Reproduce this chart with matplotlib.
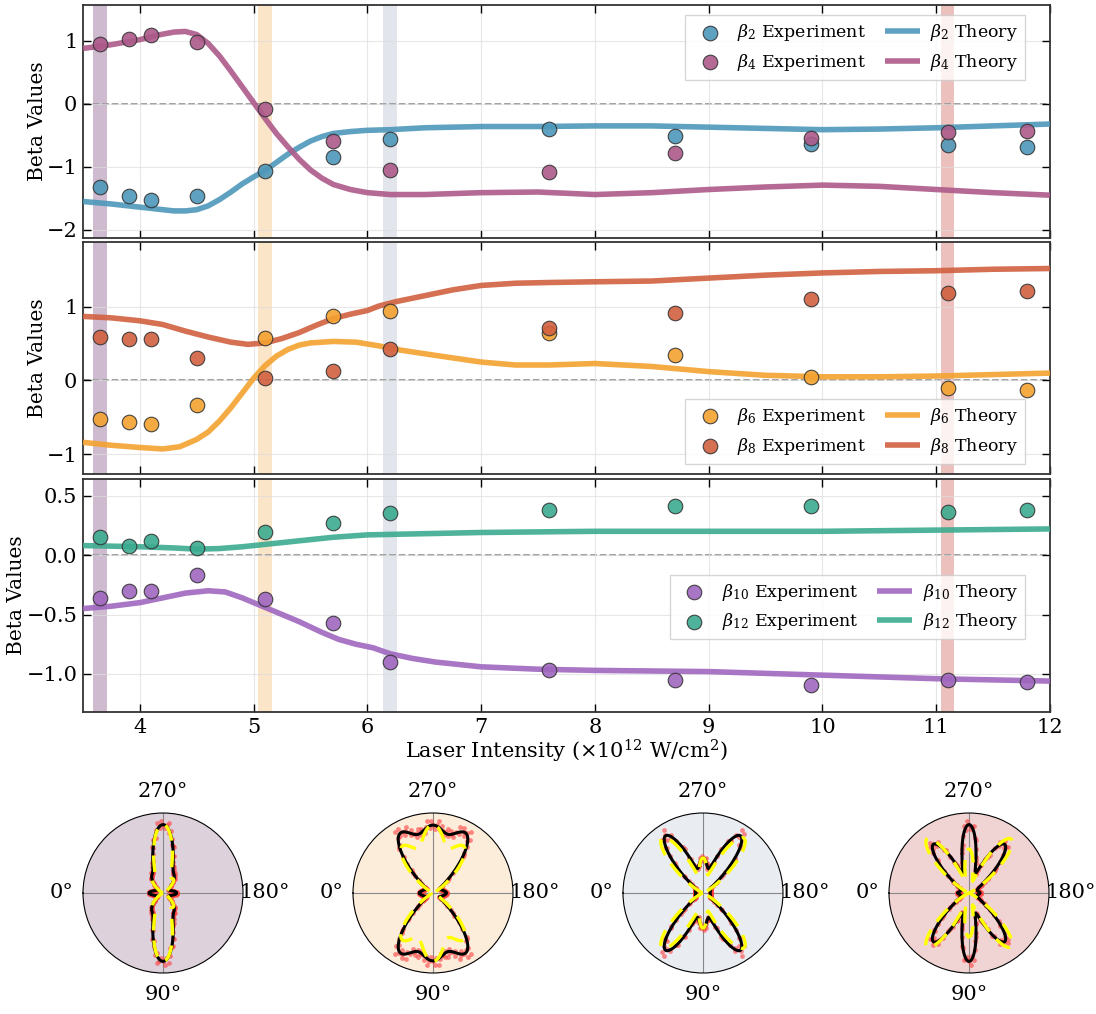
import numpy as np
import matplotlib
matplotlib.use("Agg")
import matplotlib.pyplot as plt
from matplotlib.ticker import MultipleLocator
from numpy.polynomial import legendre

plt.rcParams["font.family"] = ["DejaVu Serif"]
plt.rcParams["mathtext.fontset"] = "dejavuserif"

# --- experiment data (intensity in 1e12 W/cm^2) ---
x_exp = [3.65, 3.9, 4.1, 4.5, 5.1, 5.7, 6.2, 7.6, 8.7, 9.9, 11.1, 11.8]
b2_exp = [-1.32, -1.46, -1.52, -1.46, -1.06, -0.84, -0.56, -0.40, -0.51, -0.63, -0.65, -0.68]
b4_exp = [0.95, 1.03, 1.09, 0.98, -0.08, -0.59, -1.05, -1.08, -0.78, -0.54, -0.45, -0.43]
b6_exp = [-0.52, -0.56, -0.59, -0.33, 0.58, 0.87, 0.94, 0.65, 0.34, 0.05, -0.10, -0.13]
b8_exp = [0.59, 0.56, 0.56, 0.31, 0.03, 0.13, 0.43, 0.71, 0.91, 1.10, 1.19, 1.21]
b10_exp = [-0.36, -0.30, -0.30, -0.17, -0.37, -0.57, -0.90, -0.97, -1.05, -1.09, -1.05, -1.07]
b12_exp = [0.15, 0.08, 0.12, 0.06, 0.19, 0.27, 0.35, 0.38, 0.41, 0.41, 0.36, 0.38]

# --- theory curves ---
x_b2_th = [3.5, 3.75, 4.0, 4.15, 4.3, 4.4, 4.5, 4.6, 4.7, 4.8, 4.9, 5.0, 5.1, 5.2, 5.3, 5.4, 5.5,
           5.6, 5.7, 5.85, 6.0, 6.2, 6.5, 7.0, 7.5, 8.0, 8.5, 9.0, 9.5, 10.0, 10.5, 11.0, 11.5, 12.0]
b2_th = [-1.55, -1.59, -1.64, -1.67, -1.70, -1.70, -1.68, -1.62, -1.52, -1.40, -1.27, -1.16, -1.06,
         -0.93, -0.80, -0.69, -0.59, -0.52, -0.47, -0.44, -0.42, -0.41, -0.38, -0.36, -0.36, -0.35,
         -0.35, -0.37, -0.39, -0.41, -0.40, -0.38, -0.35, -0.32]
x_b4_th = [3.5, 3.75, 4.0, 4.15, 4.3, 4.4, 4.5, 4.6, 4.7, 4.8, 4.9, 5.0, 5.1, 5.2, 5.3, 5.4, 5.5,
           5.6, 5.7, 5.85, 6.0, 6.2, 6.5, 7.0, 7.5, 8.0, 8.5, 9.0, 9.5, 10.0, 10.5, 11.0, 11.5, 12.0]
b4_th = [0.88, 0.94, 1.02, 1.09, 1.14, 1.15, 1.10, 0.96, 0.76, 0.52, 0.27, 0.02, -0.23, -0.47, -0.68,
         -0.88, -1.05, -1.18, -1.28, -1.36, -1.41, -1.44, -1.44, -1.41, -1.40, -1.44, -1.41, -1.36,
         -1.32, -1.29, -1.31, -1.36, -1.41, -1.45]
x_b6_th = [3.5, 3.75, 4.0, 4.2, 4.35, 4.5, 4.6, 4.7, 4.8, 4.9, 5.0, 5.1, 5.2, 5.3, 5.4, 5.5, 5.7,
           5.9, 6.1, 6.3, 6.6, 7.0, 7.3, 7.6, 8.0, 8.5, 9.0, 9.5, 10.0, 10.5, 11.0, 11.5, 12.0]
b6_th = [-0.84, -0.88, -0.91, -0.93, -0.90, -0.80, -0.70, -0.55, -0.37, -0.17, 0.03, 0.20, 0.33,
         0.42, 0.48, 0.51, 0.53, 0.52, 0.47, 0.41, 0.34, 0.25, 0.21, 0.21, 0.23, 0.19, 0.12, 0.07,
         0.05, 0.05, 0.06, 0.08, 0.10]
x_b8_th = [3.5, 3.75, 4.0, 4.2, 4.4, 4.6, 4.8, 4.95, 5.1, 5.25, 5.4, 5.55, 5.7, 5.85, 6.0, 6.1,
           6.25, 6.5, 6.75, 7.0, 7.3, 7.6, 8.0, 8.5, 9.0, 9.5, 10.0, 10.5, 11.0, 11.5, 12.0]
b8_th = [0.87, 0.85, 0.81, 0.76, 0.67, 0.59, 0.52, 0.49, 0.51, 0.57, 0.65, 0.75, 0.84, 0.90, 0.95,
         1.01, 1.07, 1.15, 1.23, 1.29, 1.32, 1.33, 1.34, 1.35, 1.39, 1.43, 1.46, 1.48, 1.49, 1.51, 1.52]
x_b10_th = [3.5, 3.75, 4.0, 4.2, 4.4, 4.6, 4.75, 4.9, 5.05, 5.2, 5.4, 5.6, 5.75, 5.9, 6.05, 6.2,
            6.4, 6.6, 7.0, 7.5, 8.0, 9.0, 10.0, 11.0, 12.0]
b10_th = [-0.45, -0.43, -0.40, -0.36, -0.32, -0.30, -0.31, -0.36, -0.42, -0.48, -0.56, -0.65, -0.71,
          -0.75, -0.78, -0.83, -0.87, -0.90, -0.94, -0.96, -0.97, -0.98, -1.01, -1.04, -1.06]
x_b12_th = [3.5, 4.0, 4.3, 4.5, 4.7, 4.9, 5.1, 5.3, 5.5, 5.7, 6.0, 6.5, 7.0, 8.0, 9.0, 10.0, 11.0, 12.0]
b12_th = [0.08, 0.07, 0.06, 0.05, 0.055, 0.07, 0.09, 0.11, 0.13, 0.15, 0.17, 0.18, 0.19, 0.20, 0.20,
          0.20, 0.21, 0.22]

# highlighted intensities and their polar panel backgrounds
highlight_x = [3.65, 5.1, 6.2, 11.1]
band_colors = ["#c9b4cb", "#fbe3c3", "#dfe3ea", "#eabab6"]
polar_bg = ["#ddd1db", "#fcecda", "#e9edf2", "#f0d4d3"]

C = {2: "#4d97b9", 4: "#ad5a8a", 6: "#f4a22f", 8: "#d1603f", 10: "#a066bf", 12: "#3bab8f"}

fig = plt.figure(figsize=(10.96, 10.14), dpi=100)
W, H = 1096.0, 1014.0

def px_axes(left, top, right, bottom, **kw):
    return fig.add_axes([left / W, 1 - bottom / H, (right - left) / W, (bottom - top) / H], **kw)

panels = [
    dict(box=(83, 5, 1050, 238), ylim=(-2.13, 1.57), step=1.0, loc="upper right", anchor=(0.985, 1.0),
         series=[(2, b2_exp, x_b2_th, b2_th), (4, b4_exp, x_b4_th, b4_th)]),
    dict(box=(83, 242, 1050, 474), ylim=(-1.27, 1.88), step=1.0, loc="lower right", anchor=(0.985, 0.0),
         series=[(6, b6_exp, x_b6_th, b6_th), (8, b8_exp, x_b8_th, b8_th)]),
    dict(box=(83, 479, 1050, 712), ylim=(-1.32, 0.64), step=0.5, loc="center right", anchor=(0.985, 0.45),
         series=[(10, b10_exp, x_b10_th, b10_th), (12, b12_exp, x_b12_th, b12_th)]),
]

axes = []
for i, p in enumerate(panels):
    ax = px_axes(*p["box"])
    axes.append(ax)
    for hx, bc in zip(highlight_x, band_colors):
        ax.axvspan(hx - 0.06, hx + 0.06, color=bc, alpha=0.9, lw=0, zorder=0)
    ax.axhline(0, color="#999999", ls="--", lw=1.3, zorder=1)
    for n, ye, xt, yt in p["series"]:
        ax.scatter(x_exp, ye, s=110, color=C[n], edgecolor="#333333", lw=0.8,
                   alpha=0.9, zorder=4, label=rf"$\beta_{{{n}}}$ Experiment")
    for n, ye, xt, yt in p["series"]:
        ax.plot(xt, yt, color=C[n], lw=4, alpha=0.9, zorder=3,
                solid_capstyle="butt", label=rf"$\beta_{{{n}}}$ Theory")
    ax.set_xlim(3.5, 12)
    ax.set_ylim(*p["ylim"])
    ax.yaxis.set_major_locator(MultipleLocator(p["step"]))
    ax.xaxis.set_major_locator(MultipleLocator(1))
    ax.grid(True, color="#dddddd", lw=0.8, alpha=0.7)
    ax.tick_params(direction="in", top=True, right=True, length=6, width=1, labelsize=15, pad=4)
    for s in ax.spines.values():
        s.set_color("#333333")
        s.set_linewidth(1.3)
    ax.set_ylabel("Beta Values", fontsize=14.5, labelpad=0)
    if i < 2:
        ax.tick_params(labelbottom=False)
    h, l = ax.get_legend_handles_labels()
    leg = ax.legend(h, l, loc=p["loc"], bbox_to_anchor=p["anchor"], ncol=2, fontsize=12.5,
                    frameon=True, fancybox=False, borderaxespad=0.6, columnspacing=1.1,
                    handletextpad=0.6)
    leg.get_frame().set_edgecolor("#cccccc")

axes[2].set_xlabel(r"Laser Intensity ($\times$10$^{12}$ W/cm$^2$)", fontsize=15, labelpad=1)

# --- angular distributions at the highlighted intensities ---
exp_sets = [b2_exp, b4_exp, b6_exp, b8_exp, b10_exp, b12_exp]
th_sets = [(x_b2_th, b2_th), (x_b4_th, b4_th), (x_b6_th, b6_th),
           (x_b8_th, b8_th), (x_b10_th, b10_th), (x_b12_th, b12_th)]

def distribution(betas, theta):
    coef = np.zeros(13)
    coef[0] = 1.0
    coef[2::2] = betas
    r = legendre.legval(np.cos(theta), coef)
    r = np.clip(r, 0, None)
    return r / r.max()

theta = np.linspace(0, 2 * np.pi, 721)
# small fixed radial spread for the sampled experiment points
spread = np.resize([1.0, 1.06, 0.97, 1.09, 1.02, 0.95], theta[::3].size)
centers = [163, 433, 703, 969]
for k, (hx, cx) in enumerate(zip(highlight_x, centers)):
    j = x_exp.index(hx)
    b_exp = [b[j] for b in exp_sets]
    b_th = [np.interp(hx, xt, yt) for xt, yt in th_sets]
    pax = px_axes(cx - 80, 813, cx + 80, 973, projection="polar")
    pax.set_facecolor(polar_bg[k])
    pax.set_theta_zero_location("W")
    pax.set_theta_direction(1)
    r_exp = distribution(b_exp, theta)
    r_th = distribution(b_th, theta)
    pax.scatter(theta[::3], r_exp[::3] * spread, s=12, color="#ff4040", alpha=0.6, lw=0, zorder=2)
    pax.plot(theta, r_exp, color="black", lw=2.2, zorder=3)
    pax.plot(theta, r_th, color="#ffff00", lw=2.4, ls=(0, (5, 3)), zorder=4)
    pax.set_ylim(0, 1.17)
    pax.set_yticks([])
    pax.set_xticks(np.radians([0, 90, 180, 270]))
    pax.set_xticklabels(["0°", "90°", "180°", "270°"], fontsize=15)
    pax.tick_params(pad=5)
    pax.grid(True, color="#888888", lw=0.8)
    pax.spines["polar"].set_color("black")

fig.savefig("out.png", dpi=100)
